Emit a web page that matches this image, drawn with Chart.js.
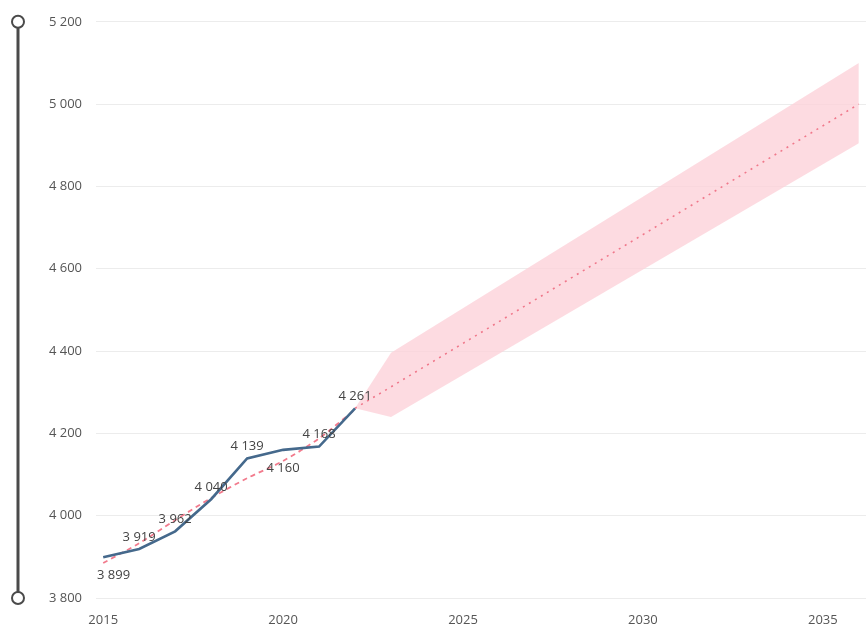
<!DOCTYPE html>
<html>
<head>
<meta charset="utf-8">
<script src="https://cdn.jsdelivr.net/npm/chart.js@4/dist/chart.umd.min.js"></script>
<style>
  html, body { margin: 0; padding: 0; background: #fff; }
  #wrap { width: 866px; height: 624px; position: relative; }
</style>
</head>
<body>
<div id="wrap"><canvas id="chart"></canvas></div>
<script>
// actual values
var years = [2015, 2016, 2017, 2018, 2019, 2020, 2021, 2022];
var actual = [3899, 3919, 3962, 4040, 4139, 4160, 4168, 4261];
var labelPos = ['below', 'above', 'above', 'above', 'above', 'below', 'above', 'above'];
// trend line (dashed)
var trend = [3885, 3933, 3989, 4043, 4091, 4133, 4188, 4258];
// forecast
var fcYears = [2022, 2023, 2036];
var forecast = [4261, 4313, 5000];
var fcLower = [4261, 4240, 4905];
var fcUpper = [4261, 4396, 5100];

function pts(xs, ys) {
  return xs.map(function (x, i) { return { x: x, y: ys[i] }; });
}

function fmt(v) {
  return String(v).replace(/\B(?=(\d{3})+(?!\d))/g, ' ');
}

var pointLabels = {
  id: 'pointLabels',
  afterDatasetsDraw: function (chart) {
    var ctx = chart.ctx;
    var xs = chart.scales.x, ys = chart.scales.y;
    var left = chart.chartArea.left;
    ctx.save();
    ctx.font = '13px "Open Sans", sans-serif';
    ctx.fillStyle = '#444';
    ctx.textAlign = 'center';
    ctx.textBaseline = 'middle';
    years.forEach(function (yr, i) {
      var txt = fmt(actual[i]);
      var half = ctx.measureText(txt).width / 2;
      var px = Math.max(xs.getPixelForValue(yr), left + half + 1);
      var py = ys.getPixelForValue(actual[i]);
      var dy = labelPos[i] === 'below' ? 18 : -12;
      ctx.fillText(txt, px, py + dy);
    });
    ctx.restore();
  }
};

var slider = {
  id: 'slider',
  afterDraw: function (chart) {
    var ctx = chart.ctx;
    var a = chart.chartArea;
    var x = 18;
    ctx.save();
    ctx.strokeStyle = '#4a4a4a';
    ctx.lineWidth = 3;
    ctx.beginPath();
    ctx.moveTo(x, a.top);
    ctx.lineTo(x, a.bottom);
    ctx.stroke();
    ctx.lineWidth = 2;
    ctx.fillStyle = '#fff';
    [a.top, a.bottom].forEach(function (y) {
      ctx.beginPath();
      ctx.arc(x, y, 6, 0, Math.PI * 2);
      ctx.fill();
      ctx.stroke();
    });
    ctx.restore();
  }
};

var chart = new Chart(document.getElementById('chart'), {
  type: 'line',
  data: {
    datasets: [
      {
        label: 'lower',
        data: pts(fcYears, fcLower),
        borderWidth: 0,
        pointRadius: 0,
        fill: false,
        order: 10
      },
      {
        label: 'upper',
        data: pts(fcYears, fcUpper),
        borderWidth: 0,
        pointRadius: 0,
        backgroundColor: 'rgba(253, 210, 218, 0.8)',
        fill: '-1',
        order: 9
      },
      {
        label: 'forecast',
        data: pts(fcYears, forecast),
        borderColor: '#f0788b',
        borderWidth: 1.6,
        borderDash: [2, 5],
        pointRadius: 0,
        fill: false,
        order: 3
      },
      {
        label: 'trend',
        data: pts(years, trend),
        borderColor: '#f27b8d',
        borderWidth: 1.8,
        borderDash: [5, 4],
        pointRadius: 0,
        tension: 0.3,
        fill: false,
        order: 2
      },
      {
        label: 'actual',
        data: pts(years, actual),
        borderColor: '#45698c',
        borderWidth: 2.6,
        pointRadius: 0,
        fill: false,
        order: 1
      }
    ]
  },
  options: {
    responsive: true,
    maintainAspectRatio: false,
    animation: false,
    layout: { padding: { top: 21, right: 0, bottom: 0, left: 0 } },
    plugins: { legend: { display: false }, tooltip: { enabled: false } },
    scales: {
      x: {
        type: 'linear',
        min: 2014.8,
        max: 2036.2,
        afterBuildTicks: function (s) {
          s.ticks = [2015, 2020, 2025, 2030, 2035].map(function (v) { return { value: v }; });
        },
        afterFit: function (s) { s.height = 26; },
        grid: { display: false },
        border: { display: false },
        ticks: {
          padding: 6,
          color: '#555',
          font: { family: '"Open Sans", sans-serif', size: 13 },
          callback: function (v) { return String(v); }
        }
      },
      y: {
        min: 3800,
        max: 5200,
        afterFit: function (s) { s.width = 96; },
        grid: { color: '#ececec', drawTicks: false },
        border: { display: false },
        ticks: {
          stepSize: 200,
          padding: 14,
          color: '#555',
          font: { family: '"Open Sans", sans-serif', size: 13 },
          callback: function (v) { return fmt(v); }
        }
      }
    }
  },
  plugins: [pointLabels, slider]
});
</script>
</body>
</html>
